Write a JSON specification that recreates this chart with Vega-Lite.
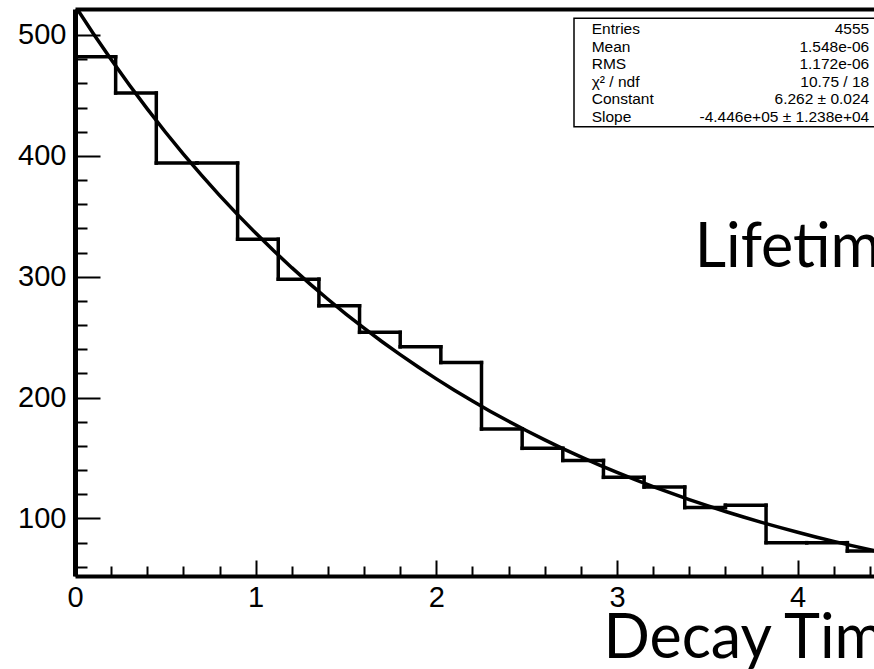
{
  "$schema": "https://vega.github.io/schema/vega-lite/v6.json",
  "width": 799,
  "height": 567,
  "autosize": {"type": "none"},
  "padding": {"left": 75, "top": 9, "right": 0, "bottom": 93},
  "background": "white",
  "config": {
    "view": {"stroke": null},
    "axis": {
      "grid": false,
      "labelFont": "Liberation Sans",
      "labelColor": "black",
      "domainColor": "black",
      "tickColor": "black",
      "titleColor": "black"
    }
  },
  "datasets": {
    "bins": [
      {"lo": 0, "hi": 0.225, "count": 482},
      {"lo": 0.225, "hi": 0.45, "count": 452},
      {"lo": 0.45, "hi": 0.675, "count": 394},
      {"lo": 0.675, "hi": 0.9, "count": 394},
      {"lo": 0.9, "hi": 1.125, "count": 331},
      {"lo": 1.125, "hi": 1.35, "count": 298},
      {"lo": 1.35, "hi": 1.575, "count": 276},
      {"lo": 1.575, "hi": 1.8, "count": 254},
      {"lo": 1.8, "hi": 2.025, "count": 242},
      {"lo": 2.025, "hi": 2.25, "count": 229},
      {"lo": 2.25, "hi": 2.475, "count": 174},
      {"lo": 2.475, "hi": 2.7, "count": 158},
      {"lo": 2.7, "hi": 2.925, "count": 148},
      {"lo": 2.925, "hi": 3.15, "count": 134},
      {"lo": 3.15, "hi": 3.375, "count": 126},
      {"lo": 3.375, "hi": 3.6, "count": 109},
      {"lo": 3.6, "hi": 3.825, "count": 111},
      {"lo": 3.825, "hi": 4.05, "count": 80},
      {"lo": 4.05, "hi": 4.275, "count": 80},
      {"lo": 4.275, "hi": 4.5, "count": 73}
    ],
    "fit": [
      {"t": 0.0, "fit": 524.27}, {"t": 0.1, "fit": 501.47}, {"t": 0.2, "fit": 479.66},
      {"t": 0.3, "fit": 458.80}, {"t": 0.4, "fit": 438.85}, {"t": 0.5, "fit": 419.77},
      {"t": 0.6, "fit": 401.52}, {"t": 0.7, "fit": 384.06}, {"t": 0.8, "fit": 367.36},
      {"t": 0.9, "fit": 351.38}, {"t": 1.0, "fit": 336.10}, {"t": 1.1, "fit": 321.48},
      {"t": 1.2, "fit": 307.50}, {"t": 1.3, "fit": 294.13}, {"t": 1.4, "fit": 281.34},
      {"t": 1.5, "fit": 269.11}, {"t": 1.6, "fit": 257.41}, {"t": 1.7, "fit": 246.21},
      {"t": 1.8, "fit": 235.51}, {"t": 1.9, "fit": 225.26}, {"t": 2.0, "fit": 215.47},
      {"t": 2.1, "fit": 206.10}, {"t": 2.2, "fit": 197.14}, {"t": 2.3, "fit": 188.57},
      {"t": 2.4, "fit": 180.37}, {"t": 2.5, "fit": 172.52}, {"t": 2.6, "fit": 165.02},
      {"t": 2.7, "fit": 157.84}, {"t": 2.8, "fit": 150.98}, {"t": 2.9, "fit": 144.42},
      {"t": 3.0, "fit": 138.14}, {"t": 3.1, "fit": 132.13}, {"t": 3.2, "fit": 126.38},
      {"t": 3.3, "fit": 120.89}, {"t": 3.4, "fit": 115.63}, {"t": 3.5, "fit": 110.60},
      {"t": 3.6, "fit": 105.79}, {"t": 3.7, "fit": 101.19}, {"t": 3.8, "fit": 96.79},
      {"t": 3.9, "fit": 92.58}, {"t": 4.0, "fit": 88.55}, {"t": 4.1, "fit": 84.70},
      {"t": 4.2, "fit": 81.02}, {"t": 4.3, "fit": 77.50}, {"t": 4.4, "fit": 74.13},
      {"t": 4.5, "fit": 70.91}
    ],
    "stats": [
      {"stat": "Entries", "value": "4555"},
      {"stat": "Mean", "value": "1.548e-06"},
      {"stat": "RMS", "value": "1.172e-06"},
      {"stat": "χ² / ndf", "value": "10.75 / 18"},
      {"stat": "Constant", "value": "6.262 ± 0.024"},
      {"stat": "Slope", "value": "-4.446e+05 ± 1.238e+04"}
    ]
  },
  "layer": [
    {
      "layer": [
        {
          "data": {"name": "bins"},
          "mark": {"type": "rule", "color": "black", "strokeWidth": 3.5, "strokeCap": "square", "clip": true},
          "encoding": {
            "x": {
              "field": "lo", "type": "quantitative",
              "scale": {"domain": [0, 4.4225], "nice": false, "zero": false},
              "axis": {
                "orient": "bottom", "values": [0, 1, 2, 3, 4], "format": "d",
                "ticks": false, "domain": true, "domainWidth": 4,
                "labels": true, "labelFontSize": 29, "labelPadding": 7,
                "labelFlush": false, "labelOverlap": false,
                "title": "Decay Time", "titleFont": "Lato", "titleFontSize": 61,
                "titleFontWeight": "normal", "titleAlign": "left",
                "titleBaseline": "alphabetic", "titleX": 528, "titleY": 81
              }
            },
            "x2": {"field": "hi"},
            "y": {
              "field": "count", "type": "quantitative",
              "scale": {"domain": [52.4, 521.5], "nice": false, "zero": false},
              "axis": {
                "orient": "left", "values": [100, 200, 300, 400, 500],
                "ticks": false, "domain": true, "domainWidth": 5,
                "labels": true, "labelFontSize": 29, "labelPadding": 9,
                "labelFlush": false, "labelOverlap": false, "title": null
              }
            }
          }
        },
        {
          "data": {"name": "bins"},
          "transform": [
            {"window": [{"op": "lead", "field": "count", "as": "next"}], "sort": [{"field": "lo"}]},
            {"filter": "datum.next != null"}
          ],
          "mark": {"type": "rule", "color": "black", "strokeWidth": 3.5, "strokeCap": "square", "clip": true},
          "encoding": {
            "x": {
              "field": "hi", "type": "quantitative",
              "axis": {
                "orient": "bottom", "values": [0, 1, 2, 3, 4],
                "domain": false, "labels": false, "ticks": true,
                "tickSize": -16, "tickWidth": 2, "title": null
              }
            },
            "y": {
              "field": "count", "type": "quantitative",
              "axis": {
                "orient": "left", "values": [100, 200, 300, 400, 500],
                "domain": false, "labels": false, "ticks": true,
                "tickSize": -25, "tickWidth": 2, "title": null
              }
            },
            "y2": {"field": "next"}
          }
        },
        {
          "data": {"name": "fit"},
          "mark": {"type": "line", "color": "black", "strokeWidth": 3.5, "clip": true},
          "encoding": {
            "x": {
              "field": "t", "type": "quantitative",
              "axis": {
                "orient": "bottom",
                "values": [0.2, 0.4, 0.6, 0.8, 1.2, 1.4, 1.6, 1.8, 2.2, 2.4, 2.6, 2.8, 3.2, 3.4, 3.6, 3.8, 4.2, 4.4],
                "domain": false, "labels": false, "ticks": true,
                "tickSize": -10, "tickWidth": 2, "title": null
              }
            },
            "y": {
              "field": "fit", "type": "quantitative",
              "axis": {
                "orient": "left",
                "values": [60, 80, 120, 140, 160, 180, 220, 240, 260, 280, 320, 340, 360, 380, 420, 440, 460, 480],
                "domain": false, "labels": false, "ticks": true,
                "tickSize": -12, "tickWidth": 2, "title": null
              }
            }
          }
        },
        {
          "data": {"values": [{"heading": "Lifetime"}]},
          "mark": {"type": "text", "font": "Lato", "fontSize": 61, "align": "left", "baseline": "alphabetic", "color": "black"},
          "encoding": {
            "x": {
              "datum": 3.43, "type": "quantitative",
              "axis": {
                "orient": "top", "domain": true, "domainWidth": 4,
                "ticks": false, "labels": false, "title": null
              }
            },
            "y": {"datum": 308, "type": "quantitative", "axis": null},
            "text": {"field": "heading"}
          }
        },
        {
          "data": {"values": [{"box": "stats"}]},
          "mark": {"type": "rect", "fill": "white", "stroke": "black", "strokeWidth": 1.5, "clip": true},
          "encoding": {
            "x": {"datum": 2.762, "type": "quantitative", "axis": null},
            "x2": {"datum": 4.6},
            "y": {"datum": 513.8, "type": "quantitative", "axis": null},
            "y2": {"datum": 424.1}
          }
        }
      ],
      "resolve": {"axis": {"x": "independent", "y": "independent"}}
    },
    {
      "data": {"name": "stats"},
      "encoding": {
        "y": {
          "field": "stat", "type": "nominal", "sort": null,
          "scale": {"type": "point", "range": [11.5, 116.5], "padding": 0.5},
          "axis": null
        }
      },
      "layer": [
        {
          "mark": {"type": "text", "font": "Liberation Sans", "fontSize": 15.5, "align": "left", "baseline": "middle", "color": "black"},
          "encoding": {
            "x": {"datum": 2.86, "type": "quantitative", "axis": null},
            "text": {"field": "stat"}
          }
        },
        {
          "mark": {"type": "text", "font": "Liberation Sans", "fontSize": 15.5, "align": "right", "baseline": "middle", "color": "black"},
          "encoding": {
            "x": {"datum": 4.396, "type": "quantitative", "axis": null},
            "text": {"field": "value"}
          }
        }
      ]
    }
  ],
  "resolve": {"scale": {"y": "independent"}}
}
